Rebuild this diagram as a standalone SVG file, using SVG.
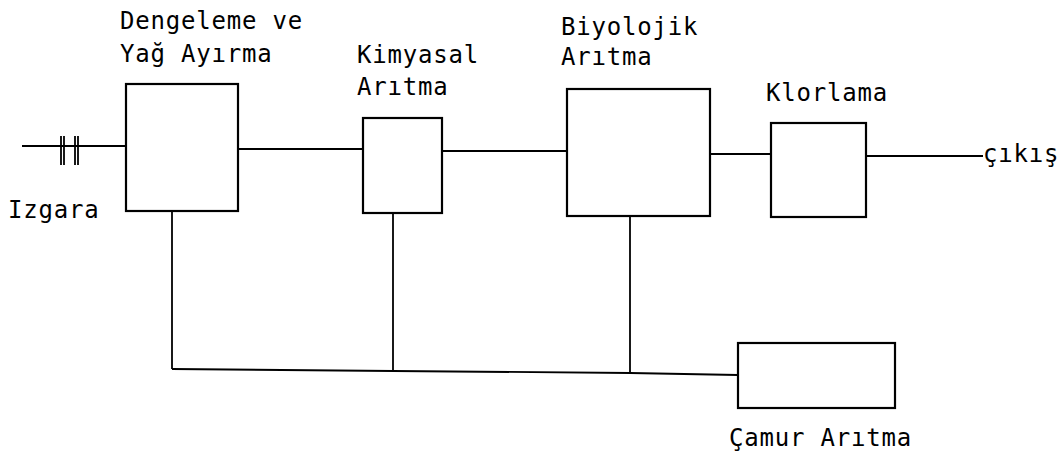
<svg xmlns="http://www.w3.org/2000/svg" width="1064" height="457" viewBox="0 0 1064 457">
<style>
.box{fill:#fff;stroke:#000;stroke-width:2.2}
.ln{fill:none;stroke:#000;stroke-width:1.8}
.t{font-family:"DejaVu Sans Mono","Liberation Mono",monospace;font-size:24px;letter-spacing:0.8px;fill:#000}
</style>
<rect width="1064" height="457" fill="#fff"/>
<g id="connectors">
<line class="ln" x1="22" y1="146" x2="126" y2="146"/>
<line class="ln" x1="61" y1="136" x2="61" y2="165"/>
<line class="ln" x1="64" y1="136" x2="64" y2="165"/>
<line class="ln" x1="75" y1="136" x2="75" y2="165"/>
<line class="ln" x1="78" y1="136" x2="78" y2="165"/>
<line class="ln" x1="238" y1="149" x2="363" y2="149"/>
<line class="ln" x1="442" y1="151" x2="567" y2="151"/>
<line class="ln" x1="710" y1="154" x2="771" y2="154"/>
<line class="ln" x1="866" y1="156" x2="983" y2="156"/>
<line class="ln" x1="172" y1="211" x2="172" y2="369"/>
<line class="ln" x1="393" y1="213" x2="393" y2="371"/>
<line class="ln" x1="630" y1="216" x2="630" y2="373"/>
<polyline class="ln" points="172,369 393,371 630,373 738,375"/>
</g>
<g id="izgara"><text class="t" x="8" y="218">Izgara</text></g>
<g id="dengeleme">
<rect class="box" x="126" y="84" width="112" height="127"/>
<text class="t" x="120" y="29">Dengeleme ve</text>
<text class="t" x="120" y="62">Yağ Ayırma</text>
</g>
<g id="kimyasal">
<rect class="box" x="363" y="118" width="79" height="95"/>
<text class="t" x="357" y="63">Kimyasal</text>
<text class="t" x="357" y="95">Arıtma</text>
</g>
<g id="biyolojik">
<rect class="box" x="567" y="89" width="143" height="127"/>
<text class="t" x="561" y="35">Biyolojik</text>
<text class="t" x="561" y="65">Arıtma</text>
</g>
<g id="klorlama">
<rect class="box" x="771" y="123" width="95" height="94"/>
<text class="t" x="766" y="101">Klorlama</text>
</g>
<g id="cikis"><text class="t" x="983" y="162">çıkış</text></g>
<g id="camur">
<rect class="box" x="738" y="343" width="157" height="65"/>
<text class="t" x="729" y="446">Çamur Arıtma</text>
</g>
</svg>
